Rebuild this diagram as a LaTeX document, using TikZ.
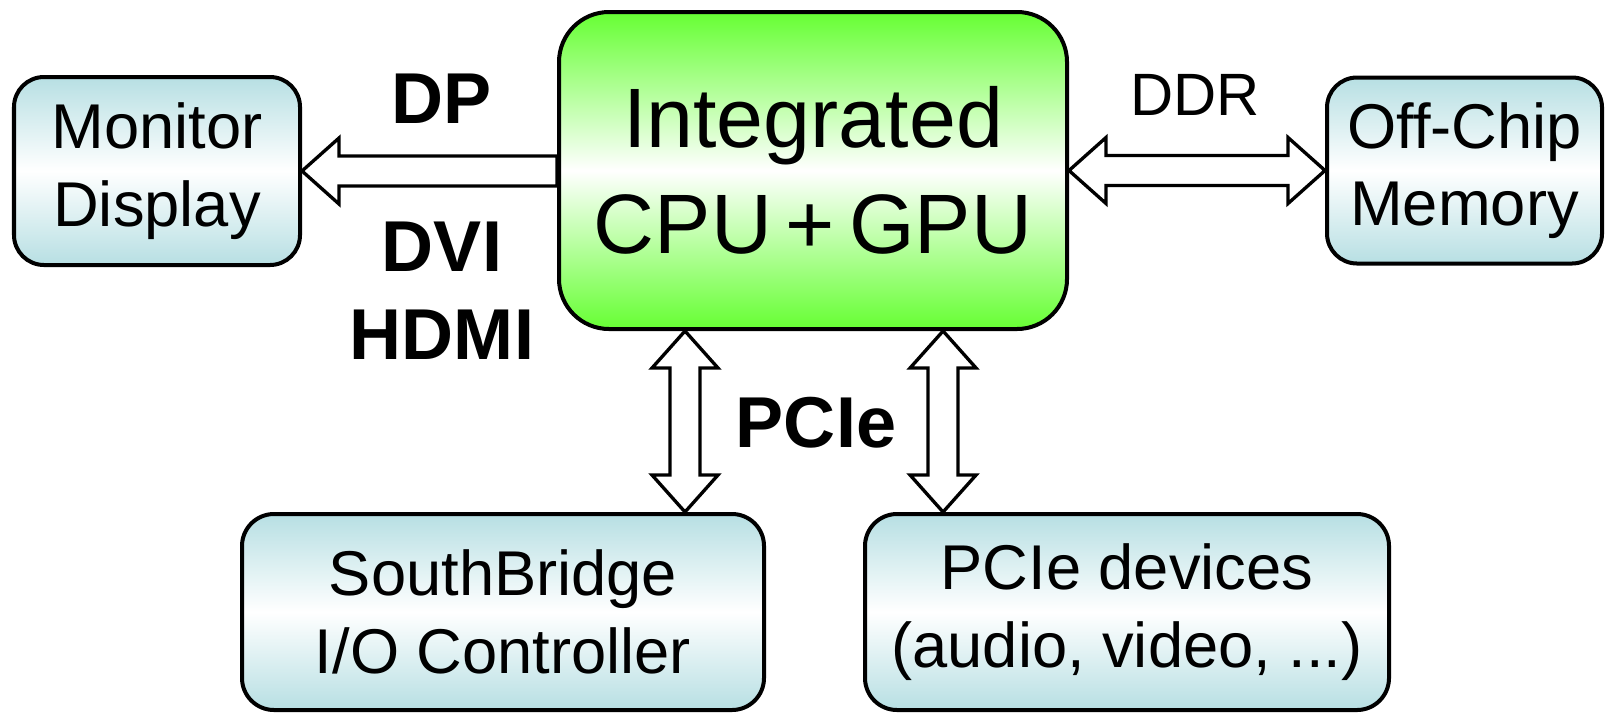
\documentclass[tikz,border=0pt]{standalone}
\usepackage{fontspec}
\setmainfont{Liberation Sans}
\definecolor{boxBlue}{HTML}{B7DFE3}
\definecolor{chipGreen}{HTML}{66FF33}
\usetikzlibrary{calc,positioning}

\tikzset{
  unitbox/.style={draw, line width=1.14pt, inner sep=0pt, align=center,
    top color=boxBlue, bottom color=boxBlue, middle color=white,
    font=\fontsize{18}{22}\selectfont},
  chipbox/.style={draw, line width=1.14pt, inner sep=0pt, align=center,
    rounded corners=0.5cm, top color=chipGreen, bottom color=chipGreen, middle color=white,
    font=\fontsize{24}{30}\selectfont},
  buslabel/.style={font=\bfseries\fontsize{20.5}{25}\selectfont, align=center},
  fatline/.style={draw=black, line width=0.95pt, fill=white, line join=miter}
}

% hollow block arrow, tail #1, tip #2
\newcommand{\fatarrow}[2]{%
  \coordinate (hb) at ($(#2)!0.37cm!(#1)$);
  \draw[fatline] ($(#1)!0.15cm!90:(#2)$) -- ($(hb)!0.15cm!90:(#2)$)
    -- ($(hb)!0.33cm!90:(#2)$) -- (#2) -- ($(hb)!0.33cm!-90:(#2)$)
    -- ($(hb)!0.15cm!-90:(#2)$) -- ($(#1)!0.15cm!-90:(#2)$) -- cycle;
}
% hollow block arrow, tips at both ends
\newcommand{\fatarrows}[2]{%
  \coordinate (ha) at ($(#1)!0.37cm!(#2)$);
  \coordinate (hb) at ($(#2)!0.37cm!(#1)$);
  \draw[fatline] (#1) -- ($(ha)!0.33cm!90:(#2)$) -- ($(ha)!0.15cm!90:(#2)$)
    -- ($(hb)!0.15cm!90:(#2)$) -- ($(hb)!0.33cm!90:(#2)$) -- (#2)
    -- ($(hb)!0.33cm!-90:(#2)$) -- ($(hb)!0.15cm!-90:(#2)$)
    -- ($(ha)!0.15cm!-90:(#2)$) -- ($(ha)!0.33cm!-90:(#2)$) -- cycle;
}

\begin{document}
\begin{tikzpicture}
  \useasboundingbox (0,0) rectangle (16.06,7.12);

  % the chip and what hangs off it
  \node[chipbox, minimum width=5.08cm, minimum height=3.17cm] (cpu) at (8.13,5.415)
    {Integrated\\CPU\,+\,GPU};
  \node[unitbox, rounded corners=0.3cm, minimum width=2.86cm, minimum height=1.88cm] (mon) at (1.57,5.41)
    {Monitor\\Display};
  \node[unitbox, rounded corners=0.3cm, minimum width=2.75cm, minimum height=1.86cm] (mem) at (14.645,5.415)
    {Off-Chip\\Memory};
  \node[unitbox, rounded corners=0.32cm, minimum width=5.22cm, minimum height=1.96cm] (sb) at (5.03,1.0)
    {SouthBridge\\I/O Controller};
  \node[unitbox, rounded corners=0.32cm, minimum width=5.24cm, minimum height=1.96cm] (pci) at (11.27,1.0)
    {PCIe devices\\(audio, video, ...)};

  % buses
  \coordinate (dpS) at (cpu.west |- mon.east);
  \fatarrow{dpS}{mon.east}
  \coordinate (ddrS) at (cpu.east |- mem.west);
  \fatarrows{ddrS}{mem.west}
  \coordinate (pa) at ($(cpu.south west)!0.25!(cpu.south east)$);
  \coordinate (pb) at (pa |- sb.north);
  \fatarrows{pa}{pb}
  \coordinate (pc) at ($(cpu.south west)!0.754!(cpu.south east)$);
  \coordinate (pd) at (pc |- pci.north);
  \fatarrows{pc}{pd}

  % bus names
  \node[buslabel, anchor=base] (dp) at (4.42,5.89) {DP};
  \node[buslabel] (dvi) at (4.42,4.21) {DVI\\HDMI};
  \node[anchor=base, font=\fontsize{17}{20}\selectfont] (ddr) at (11.95,5.97) {DDR};
  \node[buslabel, anchor=base] (pcie) at (8.16,2.65) {PCIe};
\end{tikzpicture}
\end{document}
